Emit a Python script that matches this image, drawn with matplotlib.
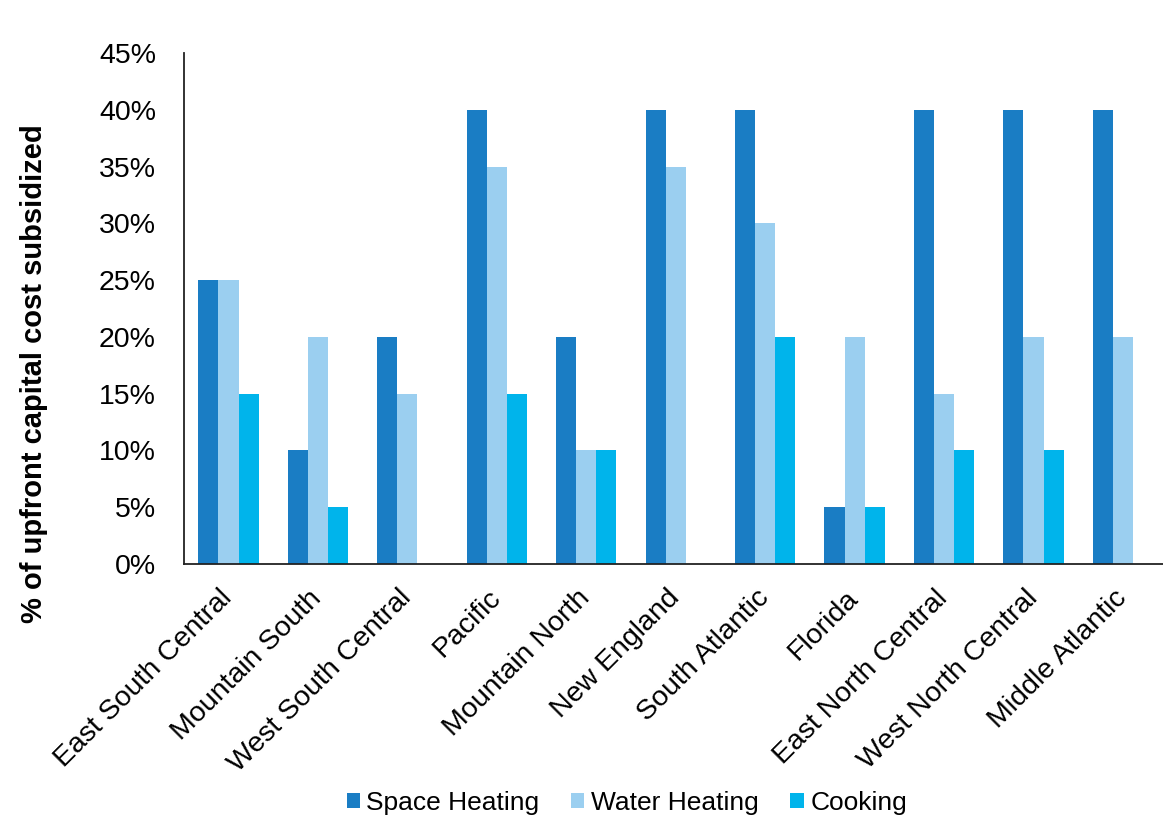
import numpy as np
import matplotlib.pyplot as plt
from matplotlib.ticker import PercentFormatter

plt.rcParams['font.family'] = ['Liberation Sans', 'DejaVu Sans']

regions = ["East South Central", "Mountain South", "West South Central", "Pacific",
           "Mountain North", "New England", "South Atlantic", "Florida",
           "East North Central", "West North Central", "Middle Atlantic"]
space_heating = [25, 10, 20, 40, 20, 40, 40, 5, 40, 40, 40]
water_heating = [25, 20, 15, 35, 10, 35, 30, 20, 15, 20, 20]
cooking = [15, 5, 0, 15, 10, 0, 20, 5, 10, 10, 0]

series = [("Space Heating", space_heating, "#1a7dc4"),
          ("Water Heating", water_heating, "#9bcff0"),
          ("Cooking", cooking, "#00b4eb")]

fig = plt.figure(figsize=(11.63, 8.17), dpi=100)
ax = fig.add_axes([0.158, 0.31, 0.846, 0.625])

x = np.arange(len(regions))
w = 0.225
for i, (name, vals, col) in enumerate(series):
    ax.bar(x + (i - 1) * w, vals, width=w, color=col, label=name)

ax.set_xlim(-0.5, len(regions) - 0.5)
ax.set_ylim(0, 45)
ax.set_yticks(np.arange(0, 46, 5))
ax.yaxis.set_major_formatter(PercentFormatter(decimals=0))
ax.set_xticks(x)
ax.set_xticklabels(regions, rotation=45, ha="right", va="center",
                   rotation_mode="anchor")
ax.tick_params(axis="both", length=0, labelsize=20.5)
ax.tick_params(axis="y", pad=20)
ax.tick_params(axis="x", pad=22)

for side in ("top", "right"):
    ax.spines[side].set_visible(False)
for side in ("left", "bottom"):
    ax.spines[side].set_linewidth(1.3)
    ax.spines[side].set_color("#222222")

ax.set_ylabel("% of upfront capital cost subsidized", fontsize=21,
              fontweight="bold")
ax.yaxis.set_label_coords(-0.138, 0.372)

fig.legend(loc="lower center", bbox_to_anchor=(0.539, -0.027), ncol=3,
           frameon=False, fontsize=19, handlelength=0.5, handleheight=0.5,
           handletextpad=0.25, columnspacing=1.2)

fig.savefig("out.png", dpi=100)
